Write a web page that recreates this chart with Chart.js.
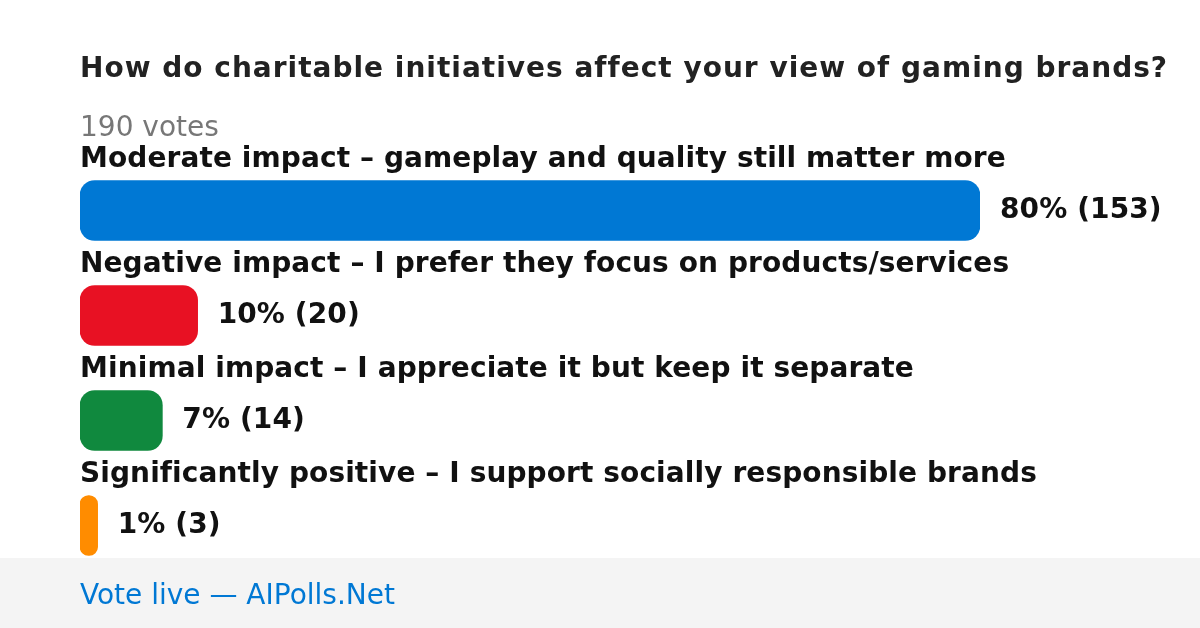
<!DOCTYPE html>
<html>
<head>
<meta charset="utf-8">
<script src="https://cdn.jsdelivr.net/npm/chart.js@4.4.1/dist/chart.umd.min.js"></script>
<style>
  html, body { margin:0; padding:0; background:#ffffff; }
  #c { display:block; }
</style>
</head>
<body>
<canvas id="c" width="1200" height="628"></canvas>
<script>
const titleText = "How do charitable initiatives affect your view of gaming brands?";
const subtitleText = "190 votes";
const footerText = "Vote live — AIPolls.Net";
const categories = [
  "Moderate impact – gameplay and quality still matter more",
  "Negative impact – I prefer they focus on products/services",
  "Minimal impact – I appreciate it but keep it separate",
  "Significantly positive – I support socially responsible brands"
];
const votes = [153, 20, 14, 3];
const percents = [80, 10, 7, 1];
const barColors = ["#0078d4", "#e81123", "#10893e", "#ff8c00"];

const FONT = '"DejaVu Sans", sans-serif';

const decorPlugin = {
  id: 'decorPlugin',
  beforeDraw(chart) {
    const ctx = chart.ctx;
    ctx.save();
    ctx.fillStyle = '#ffffff';
    ctx.fillRect(0, 0, chart.width, chart.height);
    ctx.fillStyle = '#f4f4f4';
    ctx.fillRect(0, 558, chart.width, chart.height - 558);
    ctx.textAlign = 'left';
    ctx.textBaseline = 'alphabetic';
    // title
    ctx.font = 'bold 28px ' + FONT;
    ctx.letterSpacing = '1px';
    ctx.fillStyle = '#222222';
    ctx.fillText(titleText, 80, 77);
    ctx.letterSpacing = '0px';
    // subtitle
    ctx.font = '28px ' + FONT;
    ctx.fillStyle = '#777777';
    ctx.fillText(subtitleText, 80, 136);
    // footer
    ctx.fillStyle = '#0078d4';
    ctx.fillText(footerText, 80, 604);
    ctx.restore();
  },
  afterDatasetsDraw(chart) {
    const ctx = chart.ctx;
    const meta = chart.getDatasetMeta(0);
    ctx.save();
    ctx.font = 'bold 28px ' + FONT;
    ctx.letterSpacing = '0.1px';
    ctx.fillStyle = '#111111';
    ctx.textAlign = 'left';
    ctx.textBaseline = 'alphabetic';
    meta.data.forEach((bar, i) => {
      const top = bar.y - bar.height / 2;
      ctx.fillText(categories[i], chart.chartArea.left, top - 14);
      ctx.fillText(percents[i] + '% (' + votes[i] + ')', bar.x + 20, bar.y + 7);
    });
    ctx.restore();
  }
};

new Chart(document.getElementById('c'), {
  type: 'bar',
  data: {
    labels: categories,
    datasets: [{
      data: votes,
      backgroundColor: barColors,
      borderRadius: 15,
      borderSkipped: false,
      barThickness: 60
    }]
  },
  options: {
    indexAxis: 'y',
    responsive: false,
    animation: false,
    layout: { padding: { left: 80, right: 220, top: 158, bottom: 50 } },
    scales: {
      x: { display: false, min: 0, max: 153 },
      y: { display: false }
    },
    plugins: { legend: { display: false }, tooltip: { enabled: false } }
  },
  plugins: [decorPlugin]
});
</script>
</body>
</html>
